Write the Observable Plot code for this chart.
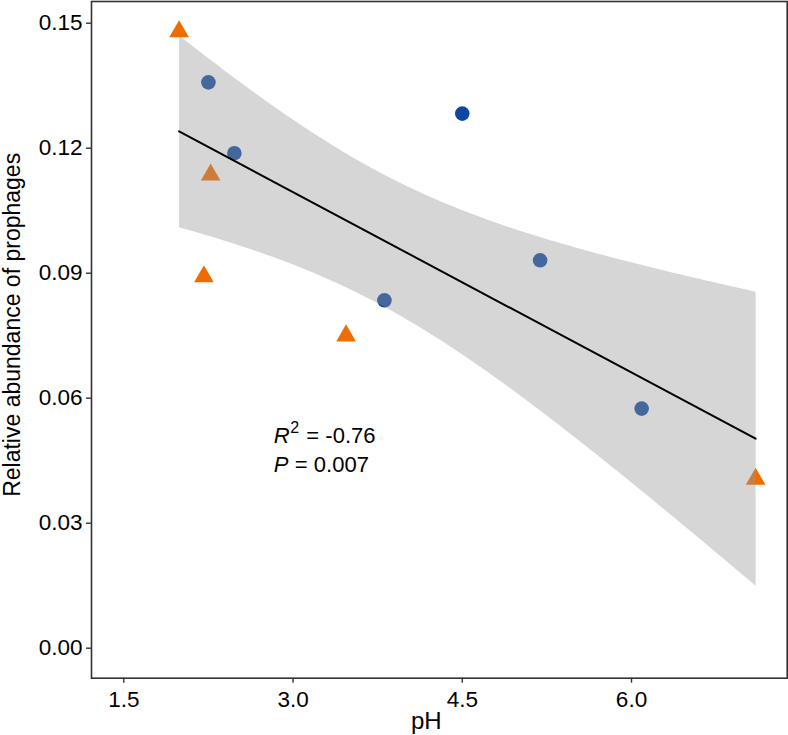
<!DOCTYPE html>
<html>
<head>
<meta charset="utf-8">
<script src="https://cdn.jsdelivr.net/npm/d3@7"></script>
<script src="https://cdn.jsdelivr.net/npm/@observablehq/plot@0.6"></script>
<style>
  html, body { margin: 0; padding: 0; background: #fff; }
</style>
</head>
<body>
<div id="chart"></div>
<script>
// Circles (blue group)
const circlePH = [2.25, 2.48, 3.81, 4.50, 5.19, 6.09];
const circleAbundance = [0.1358, 0.1188, 0.0835, 0.1283, 0.0931, 0.0575];
// Triangles (orange group)
const trianglePH = [1.99, 2.27, 2.21, 3.47, 7.10];
const triangleAbundance = [0.1480, 0.1136, 0.0892, 0.0750, 0.0406];

const groups = ["Group 1", "Group 2"];
const groupColors = ["#0D47A1", "#EF6C00"];
const groupSymbols = ["circle", "triangle"];

const xTicks = [1.5, 3.0, 4.5, 6.0];
const yTicks = [0.00, 0.03, 0.06, 0.09, 0.12, 0.15];

const xLabel = "pH";
const yLabel = "Relative abundance of prophages";
const rValue = "-0.76";
const pValue = "0.007";

// annotation anchor (data units)
const annPH = 2.83;
const annAbundance = 0.0509;

const rows = [
  ...circlePH.map((x, i) => ({pH: x, abundance: circleAbundance[i], group: groups[0]})),
  ...trianglePH.map((x, i) => ({pH: x, abundance: triangleAbundance[i], group: groups[1]}))
];

const ann = [{pH: annPH, abundance: annAbundance}];
const annOpts = {x: "pH", y: "abundance", textAnchor: "start", lineAnchor: "middle", fill: "#000", fontSize: 22};

const chart = Plot.plot({
  width: 788,
  height: 735,
  marginLeft: 91,
  marginRight: 1.3,
  marginTop: 1,
  marginBottom: 57.3,
  style: {fontFamily: "'Liberation Sans', Arial, Helvetica, sans-serif", fontSize: "22px", color: "#000", background: "#fff"},
  x: {domain: [1.2137, 7.380]},
  y: {domain: [-0.0072, 0.15521]},
  color: {domain: groups, range: groupColors},
  symbol: {domain: groups, range: groupSymbols},
  marks: [
    Plot.dot(rows, {x: "pH", y: "abundance", fill: "group", symbol: "group", r: 7.3, stroke: "none"}),
    Plot.linearRegressionY(rows, {x: "pH", y: "abundance", ci: 0.95, stroke: "#000", strokeWidth: 2, fill: "#999999", fillOpacity: 0.4}),
    Plot.frame({stroke: "#333", strokeWidth: 1.6}),
    Plot.axisX({ticks: xTicks, tickFormat: d3.format(".1f"), tickSize: 5, tickPadding: 8, stroke: "#333", strokeWidth: 1.4, label: null, fontSize: 22.5, fill: "#000"}),
    Plot.axisY({ticks: yTicks, tickFormat: d3.format(".2f"), tickSize: 5, tickPadding: 4, stroke: "#333", strokeWidth: 1.4, label: null, fontSize: 22.5, fill: "#000"}),
    Plot.text([xLabel], {frameAnchor: "bottom", textAnchor: "middle", lineAnchor: "middle", dx: -13, dy: 43, fontSize: 24, fill: "#000"}),
    Plot.text([yLabel], {frameAnchor: "left", textAnchor: "middle", lineAnchor: "middle", rotate: -90, dx: -79, dy: -15, fontSize: 23, fill: "#000"}),
    Plot.text(ann, {...annOpts, text: () => "R", fontStyle: "italic"}),
    Plot.text(ann, {...annOpts, text: () => "2", dx: 16.5, dy: -8, fontSize: 16}),
    Plot.text(ann, {...annOpts, text: () => "= " + rValue, dx: 32.5}),
    Plot.text(ann, {...annOpts, text: () => "P", fontStyle: "italic", dy: 28.5}),
    Plot.text(ann, {...annOpts, text: () => "= " + pValue, dx: 21, dy: 28.5})
  ]
});

document.getElementById("chart").appendChild(chart);
</script>
</body>
</html>
